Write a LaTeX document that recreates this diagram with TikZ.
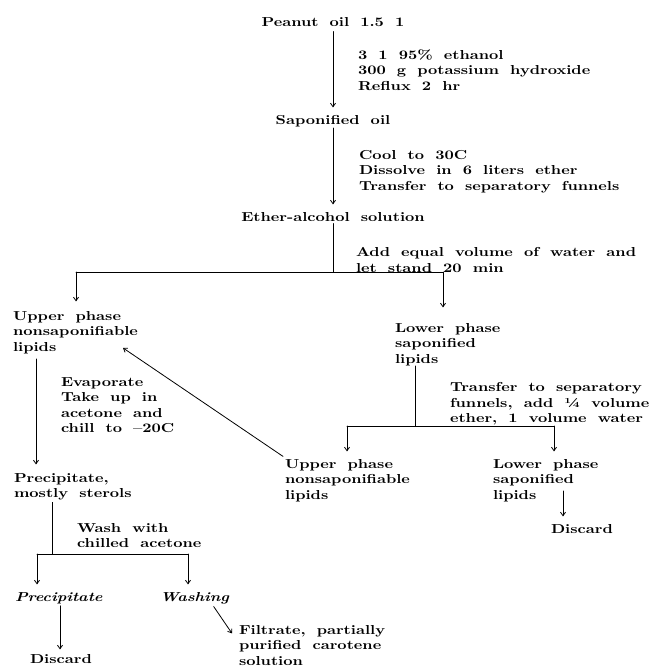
\documentclass[tikz,border=0pt]{standalone}
\usepackage{fontspec}
\newfontfamily\chartfont{lmroman10-bold.otf}[ItalicFont=lmroman10-bolditalic.otf,FakeStretch=1.24,WordSpace=1.8]
\usetikzlibrary{arrows.meta}
\newcommand{\flowfont}{\chartfont\fontsize{13}{15.5}\selectfont}
\tikzset{
  lbl/.style={anchor=north west,inner sep=0pt,outer sep=0pt,align=left},
  arr/.style={->,shorten >=8pt},
}
\begin{document}
\begin{tikzpicture}[>={Straight Barb[length=3.5pt,width=5pt]},line join=round,line cap=round,line width=0.8pt,font=\flowfont,x=1pt,y=-1pt]
                \useasboundingbox (0,0) rectangle (652,668);
                \coordinate (trunk) at (333,0);
                % main line
                \node[lbl,anchor=north] (peanut) at (333,17.4) {Peanut oil 1.5 1};
                \node[lbl] (react) at (358,49.4) {3 1 95\% ethanol\\300 g potassium hydroxide\\Reflux 2 hr};
                \node[lbl,anchor=north] (sapon) at (333,115.4) {Saponified oil};
                \node[lbl] (cool) at (359,150.4) {Cool to 30C\\Dissolve in 6 liters ether\\Transfer to separatory funnels};
                \node[lbl,anchor=north] (ether) at (333,212.4) {Ether-alcohol solution};
                \node[lbl] (water) at (356,247.4) {Add equal volume of water and\\let stand 20 min};
                \draw[arr,shorten <=5pt] (peanut.south -| trunk) -- (sapon.north -| trunk);
                \draw[arr,shorten <=1pt] (sapon.south -| trunk) -- (ether.north -| trunk);
                % first split
                \coordinate (splitA) at (333,272);
                \coordinate (splitAl) at (76,272);
                \coordinate (splitAr) at (443,272);
                \node[lbl] (upA) at (13,311.4) {Upper phase\\nonsaponifiable\\lipids};
                \node[lbl] (lowA) at (395,323.4) {Lower phase\\saponified\\lipids};
                \draw[shorten <=2pt] (ether.south -| trunk) -- (splitA);
                \draw (splitAl) -- (splitAr);
                \draw[arr,shorten >=10pt] (splitAl) -- (splitAl |- upA.north);
                \draw[arr,shorten >=16pt] (splitAr) -- (splitAr |- lowA.north);
                % left branch
                \node[lbl] (evap) at (61,377.4) {Evaporate\\Take up in\\acetone and\\chill to –20C};
                \node[lbl] (sterol) at (14,473.4) {Precipitate,\\mostly sterols};
                \draw[arr,shorten <=5pt,shorten >=9pt] ([xshift=23pt]upA.south west) -- ([xshift=22pt]sterol.north west);
                % right branch
                \node[lbl] (funnel) at (450,382.4) {Transfer to separatory\\funnels, add ¼ volume\\ether, 1 volume water};
                \coordinate (splitB) at (415,426);
                \coordinate (splitBl) at (347,426);
                \coordinate (splitBr) at (554,426);
                \node[lbl] (upB) at (285,459.4) {Upper phase\\nonsaponifiable\\lipids};
                \node[lbl] (lowB) at (493,459.4) {Lower phase\\saponified\\lipids};
                \node[lbl] (discB) at (551,524.4) {Discard};
                \draw ([xshift=20pt]lowA.south west) -- (splitB);
                \draw (splitBl) -- (splitBr);
                \draw[arr] (splitBl) -- (splitBl |- upB.north);
                \draw[arr] (splitBr) -- (splitBr |- lowB.north);
                \draw[arr] ([xshift=70pt,yshift=11pt]lowB.south west) -- ([xshift=12pt]discB.north west);
                \draw[->] ([xshift=-2pt,yshift=3pt]upB.north west) -- ([xshift=110pt,yshift=6pt]upA.south west);
                % washing
                \node[lbl] (washtxt) at (77,523.4) {Wash with\\chilled acetone};
                \coordinate (splitC) at (52,554);
                \coordinate (splitCl) at (37,554);
                \coordinate (splitCr) at (188,554);
                \node[lbl,font=\flowfont\itshape] (precip) at (15,592.4) {Precipitate};
                \node[lbl,font=\flowfont\itshape] (washing) at (160,592.4) {Washing};
                \node[lbl] (discA) at (30,654.4) {Discard};
                \node[lbl] (filtrate) at (239,625.4) {Filtrate, partially\\purified carotene\\solution};
                \draw[shorten <=2pt] ([xshift=38pt]sterol.south west) -- (splitC);
                \draw (splitCl) -- (splitCr);
                \draw[arr] (splitCl) -- (splitCl |- precip.north);
                \draw[arr] (splitCr) -- (splitCr |- washing.north);
                \draw[arr,shorten <=2pt,shorten >=5pt] ([xshift=45pt]precip.south west) -- ([xshift=30pt]discA.north west);
                \draw[->,shorten <=3pt] ([xshift=52pt]washing.south west) -- ([xshift=-7pt,yshift=-8pt]filtrate.north west);
            \end{tikzpicture}
\end{document}
